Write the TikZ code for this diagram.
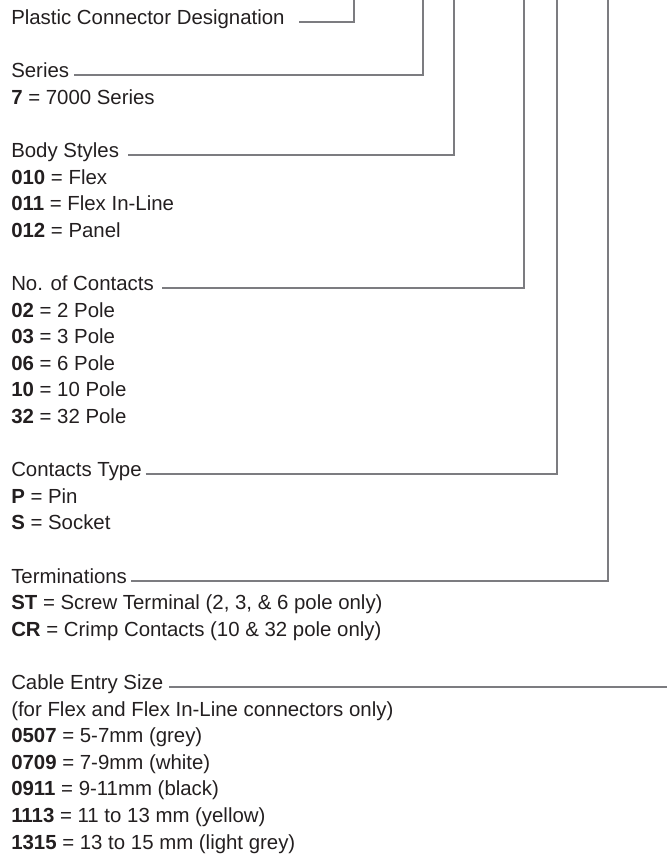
\documentclass[tikz,border=0pt]{standalone}
\usepackage{fontspec}
\setmainfont{Liberation Sans}
\definecolor{leadgray}{RGB}{124,124,128}
\definecolor{inkgray}{RGB}{35,31,32}
\newcommand{\rowy}[1]{24.5+26.6*#1}
\tikzset{
    entry/.style={anchor=base west, inner sep=0pt, text=inkgray, font=\fontsize{15.3}{20}\selectfont},
    lead/.style={draw=leadgray, line width=1.5pt},
}

\begin{document}
\begin{tikzpicture}[x=0.75pt, y=-0.75pt]
                \useasboundingbox (0,0) rectangle (667,859);
                \coordinate (top1) at (354,0);
                \coordinate (top2) at (422.7,0);
                \coordinate (top3) at (453.5,0);
                \coordinate (top4) at (524,0);
                \coordinate (top5) at (557,0);
                \coordinate (top6) at (607.5,0);
                \coordinate (rightedge) at (667,0);
                % headings
                \node[entry] (plastic) at (11,{\rowy{0}}) {Plastic Connector Designation};
                \node[entry] (series) at (11,{\rowy{2}}) {Series};
                \node[entry] (body) at (11,{\rowy{5}}) {Body Styles};
                \node[entry] (contacts) at (11,{\rowy{10}}) {No. of Contacts};
                \node[entry] (ctype) at (11,{\rowy{17}}) {Contacts Type};
                \node[entry] (term) at (11,{\rowy{21}}) {Terminations};
                \node[entry] (cable) at (11,{\rowy{25}}) {Cable Entry Size};
                % codes
                \node[entry] (ser7) at (11,{\rowy{3}}) {\textbf{7} = 7000 Series};
                \node[entry] (b010) at (11,{\rowy{6}}) {\textbf{010} = Flex};
                \node[entry] (b011) at (11,{\rowy{7}}) {\textbf{011} = Flex In-Line};
                \node[entry] (b012) at (11,{\rowy{8}}) {\textbf{012} = Panel};
                \node[entry] (c02) at (11,{\rowy{11}}) {\textbf{02} = 2 Pole};
                \node[entry] (c03) at (11,{\rowy{12}}) {\textbf{03} = 3 Pole};
                \node[entry] (c06) at (11,{\rowy{13}}) {\textbf{06} = 6 Pole};
                \node[entry] (c10) at (11,{\rowy{14}}) {\textbf{10} = 10 Pole};
                \node[entry] (c32) at (11,{\rowy{15}}) {\textbf{32} = 32 Pole};
                \node[entry] (tpin) at (11,{\rowy{18}}) {\textbf{P} = Pin};
                \node[entry] (tsock) at (11,{\rowy{19}}) {\textbf{S} = Socket};
                \node[entry] (tst) at (11,{\rowy{22}}) {\textbf{ST} = Screw Terminal (2, 3, \& 6 pole only)};
                \node[entry] (tcr) at (11,{\rowy{23}}) {\textbf{CR} = Crimp Contacts (10 \& 32 pole only)};
                \node[entry] (cnote) at (11,{\rowy{26}}) {(for Flex and Flex In-Line connectors only)};
                \node[entry] (e0507) at (11,{\rowy{27}}) {\textbf{0507} = 5-7mm (grey)};
                \node[entry] (e0709) at (11,{\rowy{28}}) {\textbf{0709} = 7-9mm (white)};
                \node[entry] (e0911) at (11,{\rowy{29}}) {\textbf{0911} = 9-11mm (black)};
                \node[entry] (e1113) at (11,{\rowy{30}}) {\textbf{1113} = 11 to 13 mm (yellow)};
                \node[entry] (e1315) at (11,{\rowy{31}}) {\textbf{1315} = 13 to 15 mm (light grey)};
                % leader lines
                \draw[lead] ([xshift=216pt, yshift=1.9pt]plastic.base west) -| (top1);
                \draw[lead] ([xshift=47.6pt, yshift=1.9pt]series.base west) -| (top2);
                \draw[lead] ([xshift=87.8pt, yshift=1.9pt]body.base west) -| (top3);
                \draw[lead] ([xshift=113.3pt, yshift=1.9pt]contacts.base west) -| (top4);
                \draw[lead] ([xshift=100.9pt, yshift=1.9pt]ctype.base west) -| (top5);
                \draw[lead] ([xshift=3pt, yshift=1.9pt]term.base east) -| (top6);
                \draw[lead] ([xshift=118.5pt, yshift=1.9pt]cable.base west) coordinate (c0) -- (c0 -| rightedge);
            \end{tikzpicture}
\end{document}
